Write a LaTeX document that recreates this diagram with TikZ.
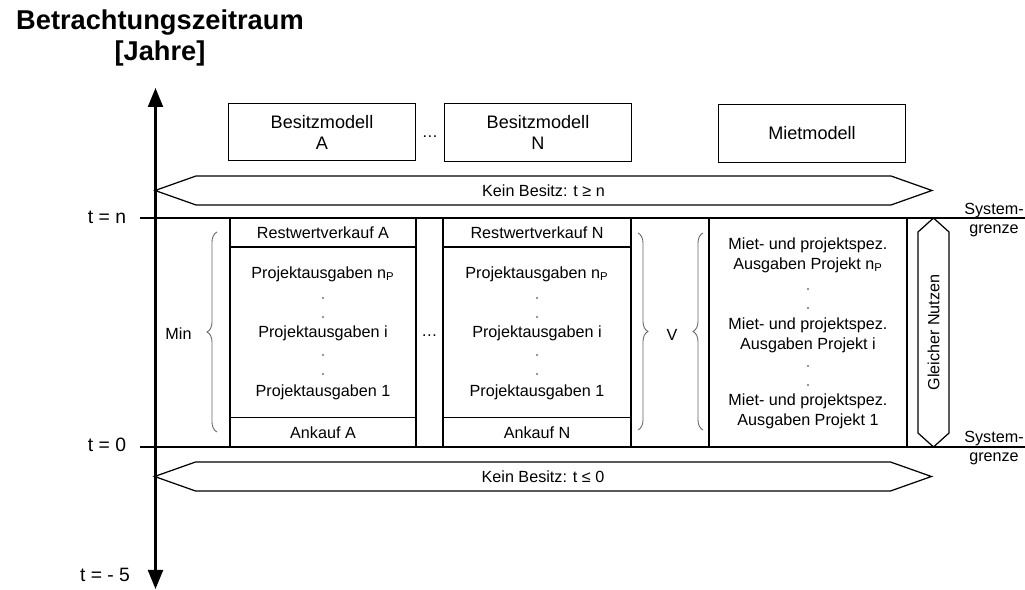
\documentclass[tikz,border=0pt]{standalone}
\usepackage{fontspec}
\setmainfont{Liberation Sans}
\usepackage{tikz}
\usetikzlibrary{shapes.arrows, arrows.meta, positioning, calc, decorations.pathreplacing}

\begin{document}
\begin{tikzpicture}[
		x=0.02cm, y=-0.02cm,
		every node/.style={font=\fontsize{9.2}{11.3}\selectfont, inner sep=1pt},
		kopf/.style={draw, line width=0.8pt, minimum width=3.74cm, minimum height=1.15cm, align=center, font=\fontsize{10.3}{12}\selectfont},
		zelle/.style={draw, line width=0.6pt, minimum height=0.58cm, inner sep=0pt, outer sep=0pt},
		kein/.style={draw, line width=0.7pt, shape=double arrow, double arrow head extend=0pt, double arrow tip angle=39, minimum height=15.54cm, minimum width=0.58cm},
		punkt/.style={circle, fill=black!55, inner sep=0pt, minimum size=1.3pt},
		klammer/.style={decorate, decoration={brace, amplitude=0.2cm}, black!60, line width=0.5pt},
		grenze/.style={line width=1.3pt},
		zeit/.style={font=\fontsize{11}{13}\selectfont}
		]
		
		\useasboundingbox (0,0) rectangle (1025,590);
		
		% Titel
		\node[font=\fontsize{15.5}{17.5}\selectfont\bfseries, align=center] (titel) at (160,38) {Betrachtungszeitraum\\{[Jahre]}};
		
		% Zeitachse
		\coordinate (achseOben) at (155.5,88);
		\coordinate (achseUnten) at (155.5,589);
		\draw[line width=1.2pt, {Triangle[length=0.38cm,width=0.3cm]}-{Triangle[length=0.38cm,width=0.3cm]}] (achseUnten) -- (achseOben);
		
		% Modelle
		\node[kopf] (besA) at (322,132) {Besitzmodell\\A};
		\node[kopf] (besN) at (538,132.5) {Besitzmodell\\N};
		\node[kopf] (miet) at (812,133.5) {Mietmodell};
		\node (dotsKopf) at (430,137) {\dots};
		
		% Kein Besitz
		\node[kein] (keinOben) at (543.5,190.5) {Kein Besitz: t ≥ n};
		\node[kein] (keinUnten) at (543,476.5) {Kein Besitz: t ≤ 0};
		
		% Systemgrenzen
		\coordinate (nLinks) at (140,218);
		\coordinate (nRechts) at (1025,218);
		\coordinate (nullLinks) at (140,447);
		\coordinate (nullRechts) at (1025,447);
		\node[zeit] (tn) at (107,217) {t = n};
		\node[zeit] (t0) at (107,445) {t = 0};
		\node[zeit] (t5) at (105,575) {t = - 5};
		\node[align=center] (sgOben) at (994,220) {System-\\grenze};
		\node[align=center] (sgUnten) at (994,448) {System-\\grenze};
		
		% Besitzmodell A
		\node[zelle, minimum width=3.72cm] (restA) at (323,232.5) {Restwertverkauf A};
		\node[zelle, minimum width=3.72cm, minimum height=3.42cm, below=0pt of restA] (projA) {};
		\node[zelle, minimum width=3.72cm, below=0pt of projA] (ankA) {Ankauf A};
		\node (pA3) at ($(projA)+(0,-58.5)$) {Projektausgaben n\textsubscript{P}};
		\node[punkt] (dA1) at ($(projA)+(0,-34.5)$) {};
		\node[punkt] (dA2) at ($(projA)+(0,-15.5)$) {};
		\node (pA2) at ($(projA)+(0,0.5)$) {Projektausgaben i};
		\node[punkt] (dA3) at ($(projA)+(0,22.5)$) {};
		\node[punkt] (dA4) at ($(projA)+(0,41.5)$) {};
		\node (pA1) at ($(projA)+(0,59.5)$) {Projektausgaben 1};
		
		% Luecke
		\node[zelle, minimum width=0.54cm, minimum height=4.58cm] (luecke) at (429.5,332.5) {};
		\node (dotsMitte) at (429.5,336) {\dots};
		
		% Besitzmodell N
		\node[zelle, minimum width=3.76cm] (restN) at (537,232.5) {Restwertverkauf N};
		\node[zelle, minimum width=3.76cm, minimum height=3.42cm, below=0pt of restN] (projN) {};
		\node[zelle, minimum width=3.76cm, below=0pt of projN] (ankN) {Ankauf N};
		\node (pN3) at ($(projN)+(0,-58.5)$) {Projektausgaben n\textsubscript{P}};
		\node[punkt] (dN1) at ($(projN)+(0,-34.5)$) {};
		\node[punkt] (dN2) at ($(projN)+(0,-15.5)$) {};
		\node (pN2) at ($(projN)+(0,0.5)$) {Projektausgaben i};
		\node[punkt] (dN3) at ($(projN)+(0,22.5)$) {};
		\node[punkt] (dN4) at ($(projN)+(0,41.5)$) {};
		\node (pN1) at ($(projN)+(0,59.5)$) {Projektausgaben 1};
		
		% Mietmodell
		\node[zelle, minimum width=3.96cm, minimum height=4.58cm] (mietSp) at (808,332.5) {};
		\node[align=center] (m3) at ($(mietSp)+(0,-77.5)$) {Miet- und projektspez.\\Ausgaben Projekt n\textsubscript{P}};
		\node[punkt] (dM1) at ($(mietSp)+(0,-43.5)$) {};
		\node[punkt] (dM2) at ($(mietSp)+(0,-24.5)$) {};
		\node[align=center] (m2) at ($(mietSp)+(0,2.5)$) {Miet- und projektspez.\\Ausgaben Projekt i};
		\node[punkt] (dM3) at ($(mietSp)+(0,33.5)$) {};
		\node[punkt] (dM4) at ($(mietSp)+(0,52.5)$) {};
		\node[align=center] (m1) at ($(mietSp)+(0,78.5)$) {Miet- und projektspez.\\Ausgaben Projekt 1};
		
		% Gleicher Nutzen
		\node[draw, line width=0.7pt, shape=double arrow, double arrow head extend=0pt, double arrow tip angle=96, minimum height=4.58cm, minimum width=0.62cm, rotate=90] (nutzen) at (933.5,332.5) {Gleicher Nutzen};
		
		% Klammern
		\coordinate (minO) at (217,232);
		\coordinate (minU) at (217,432);
		\draw[klammer] (minU) -- (minO);
		\node (min) at (178.5,334) {Min};
		\coordinate (vLO) at (638,233);
		\coordinate (vLU) at (638,430);
		\draw[klammer] (vLO) -- (vLU);
		\node (v) at (672,335) {V};
		\coordinate (vRO) at (703,233);
		\coordinate (vRU) at (703,430);
		\draw[klammer] (vRU) -- (vRO);
		
		% Linien
		\draw[grenze] (nLinks) -- (nRechts);
		\draw[grenze] (nullLinks) -- (nullRechts);
	\end{tikzpicture}
\end{document}
